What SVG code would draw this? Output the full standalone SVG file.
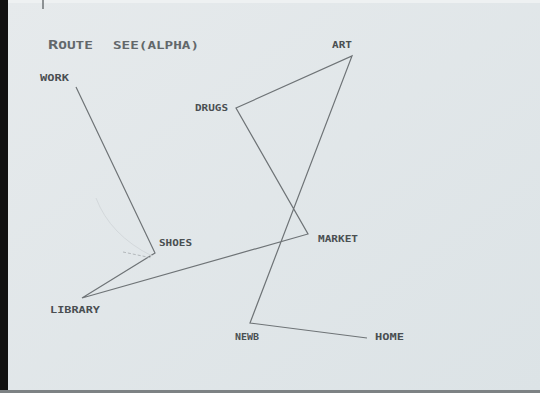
<svg xmlns="http://www.w3.org/2000/svg" width="540" height="393" viewBox="0 0 540 393">
<style>
.lbl{font-family:"DejaVu Sans Mono","Liberation Mono",monospace;font-weight:bold;font-size:8px;fill:#4a4f52}
.ttl{font-family:"DejaVu Sans Mono","Liberation Mono",monospace;font-weight:bold;font-size:11px;fill:#62676a}
.edge{fill:none;stroke:#6e7376;stroke-width:1.2;stroke-linejoin:miter}
</style>
<defs>
<linearGradient id="bg" x1="0" y1="0" x2="1" y2="1">
<stop offset="0" stop-color="#e6eaec"/>
<stop offset="1" stop-color="#dce3e6"/>
</linearGradient>
</defs>
<rect width="540" height="393" fill="url(#bg)"/>
<rect x="0" y="0" width="8" height="393" fill="#111"/>
<rect x="8" y="0" width="532" height="3" fill="#eef1f2"/>
<rect x="0" y="390" width="540" height="3" fill="#7d8284"/>
<line x1="43" y1="0" x2="43" y2="9" stroke="#6e7376" stroke-width="1.5"/>
<text class="ttl" x="48" y="49" textLength="45" lengthAdjust="spacingAndGlyphs"><tspan font-size="13">R</tspan>OUTE</text>
<text class="ttl" x="113" y="49" textLength="86" lengthAdjust="spacingAndGlyphs">SEE(ALPHA)</text>
<g id="connectors">
<polyline class="edge" points="76,87 155,253 82,298 308,234 236,108 352,56 250,323 367,338"/>
<path d="M96,198 Q110,235 152,256" fill="none" stroke="#d3d8db" stroke-width="1"/>
<line x1="123" y1="252" x2="152" y2="258" stroke="#b3b8bb" stroke-width="1" stroke-dasharray="3,2"/>
</g>
<g id="work"><text class="lbl" x="40" y="81" textLength="29" lengthAdjust="spacingAndGlyphs">WORK</text></g>
<g id="drugs"><text class="lbl" x="195" y="111" textLength="33" lengthAdjust="spacingAndGlyphs">DRUGS</text></g>
<g id="art"><text class="lbl" x="332" y="48" textLength="20" lengthAdjust="spacingAndGlyphs">ART</text></g>
<g id="shoes"><text class="lbl" x="159" y="246" textLength="33" lengthAdjust="spacingAndGlyphs">SHOES</text></g>
<g id="market"><text class="lbl" x="318" y="242" textLength="40" lengthAdjust="spacingAndGlyphs">MARKET</text></g>
<g id="library"><text class="lbl" x="50" y="313" textLength="50" lengthAdjust="spacingAndGlyphs">LIBRARY</text></g>
<g id="newb"><text class="lbl" x="235" y="340" textLength="24" lengthAdjust="spacingAndGlyphs">NEWB</text></g>
<g id="home"><text class="lbl" x="375" y="340" textLength="29" lengthAdjust="spacingAndGlyphs">HOME</text></g>
</svg>
